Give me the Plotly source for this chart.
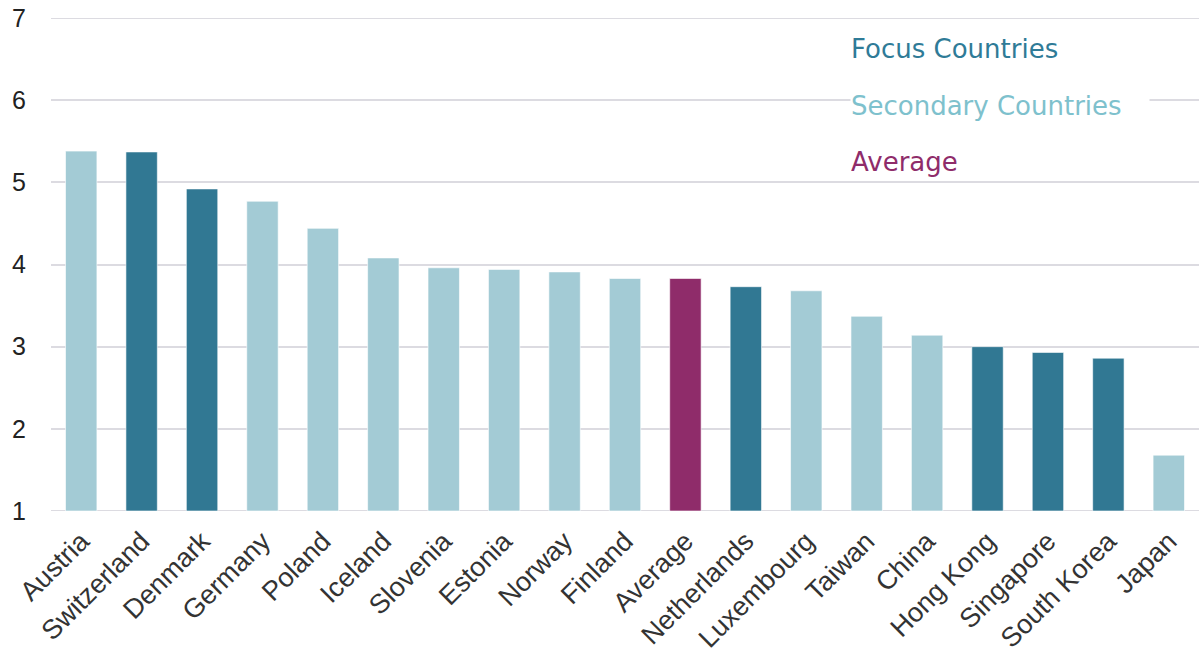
import plotly.graph_objects as go

countries = ["Austria", "Switzerland", "Denmark", "Germany", "Poland", "Iceland",
             "Slovenia", "Estonia", "Norway", "Finland", "Average", "Netherlands",
             "Luxembourg", "Taiwan", "China", "Hong Kong", "Singapore",
             "South Korea", "Japan"]
values = [5.38, 5.37, 4.92, 4.77, 4.44, 4.08, 3.96, 3.94, 3.91, 3.83, 3.83, 3.73,
          3.68, 3.37, 3.14, 3.00, 2.93, 2.86, 1.68]
groups = ["Secondary", "Focus", "Focus", "Secondary", "Secondary", "Secondary",
          "Secondary", "Secondary", "Secondary", "Secondary", "Average", "Focus",
          "Secondary", "Secondary", "Secondary", "Focus", "Focus", "Focus",
          "Secondary"]
y_ticks = [1, 2, 3, 4, 5, 6, 7]

group_colors = {"Focus": "#317893", "Secondary": "#A3CBD5", "Average": "#8F2C6A"}
legend_items = [("Focus Countries", "#2F7B97", 6.62),
                ("Secondary Countries", "#7EC1CD", 5.93),
                ("Average", "#8F2C6A", 5.25)]

base = y_ticks[0]
fig = go.Figure(go.Bar(
    x=countries,
    y=[v - base for v in values],
    base=base,
    marker=dict(color=[group_colors[g] for g in groups],
                line=dict(color="rgba(255,255,255,0.6)", width=1)),
    width=0.52,
    hoverinfo="x+text",
    text=[f"{v:.2f}" for v in values],
    textposition="none",
))

annotations = []
for label, col, yv in legend_items:
    annotations.append(dict(
        x=0.6960, xref="paper", y=yv, yref="y",
        text=label, showarrow=False, xanchor="left", yanchor="middle",
        align="left", width=298, bgcolor="white", borderpad=0,
        font=dict(family="DejaVu Sans, Arial, sans-serif", size=26, color=col),
    ))

fig.update_layout(
    width=1199, height=656,
    margin=dict(l=51, r=0, t=18, b=145),
    paper_bgcolor="white", plot_bgcolor="white",
    showlegend=False,
    bargap=0.48,
    annotations=annotations,
    xaxis=dict(
        type="category",
        tickangle=-45,
        showgrid=False,
        showline=False,
        zeroline=False,
        ticks="",
        ticklabelstandoff=8,
        tickfont=dict(family="Liberation Sans, Arial, sans-serif", size=27, color="#333333"),
        range=[-0.5, len(countries) - 0.5],
    ),
    yaxis=dict(
        range=[1, 7],
        tickvals=y_ticks,
        showgrid=True,
        gridcolor="#DCDBE1",
        gridwidth=2,
        zeroline=False,
        showline=False,
        ticks="",
        ticklabelstandoff=24,
        tickfont=dict(family="Liberation Sans, Arial, sans-serif", size=25, color="#222222"),
    ),
)

# gridlines at the range edges (y=1 and y=7)
for yv in (y_ticks[0], y_ticks[-1]):
    fig.add_shape(type="line", xref="paper", yref="y", x0=0, x1=1, y0=yv, y1=yv,
                  line=dict(color="#DCDBE1", width=2), layer="below")

fig.write_html("out.html",
               config={"displayModeBar": False},
               post_script="document.body.style.margin='0';document.body.style.overflow='hidden';")
